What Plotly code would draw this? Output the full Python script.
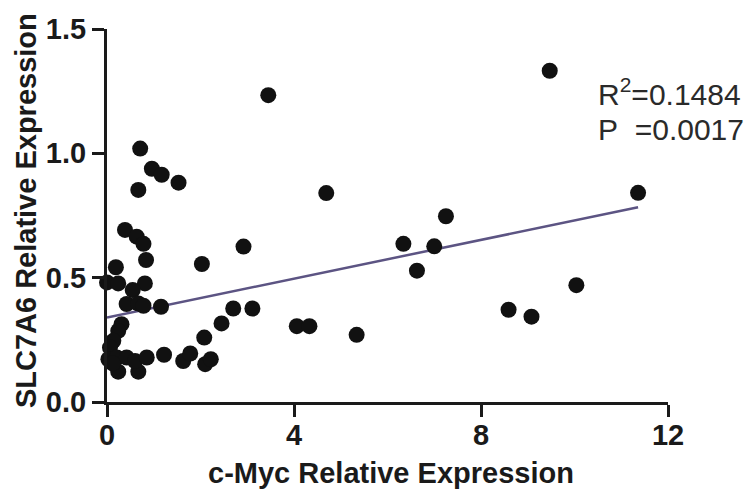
import plotly.graph_objects as go

# c-Myc relative expression (x) vs SLC7A6 relative expression (y)
cmyc = [9.47, 3.45, 0.71, 0.96, 1.17, 1.53, 0.67, 4.69, 11.36, 7.25,
        0.385, 0.635, 0.78, 2.92, 6.34, 7.00, 0.835, 2.03, 0.19, 6.63,
        0.00, 0.24, 0.81, 10.04, 0.55, 0.42, 0.67, 0.78, 1.155, 2.70,
        3.11, 8.59, 9.08, 0.31, 2.45, 4.06, 4.33, 0.24, 5.34, 2.08,
        0.135, 0.064, 0.03, 0.21, 0.42, 0.24, 0.67, 0.60, 0.85, 1.22,
        1.63, 1.78, 2.10, 2.22, 0.12]
slc7a6 = [1.332, 1.234, 1.019, 0.938, 0.914, 0.882, 0.853, 0.840, 0.841, 0.747,
          0.692, 0.665, 0.636, 0.625, 0.636, 0.626, 0.571, 0.555, 0.542, 0.528,
          0.481, 0.477, 0.477, 0.470, 0.450, 0.394, 0.396, 0.387, 0.383, 0.376,
          0.376, 0.371, 0.343, 0.313, 0.316, 0.305, 0.305, 0.286, 0.270, 0.259,
          0.246, 0.219, 0.172, 0.179, 0.179, 0.122, 0.122, 0.165, 0.179, 0.190,
          0.165, 0.195, 0.152, 0.172, 0.155]

# regression line end points
fit_x = [0.0, 11.36]
fit_y = [0.34, 0.783]

x_ticks = [0, 4, 8, 12]
y_ticks = [0.0, 0.5, 1.0, 1.5]
y_ticklabels = ["0.0", "0.5", "1.0", "1.5"]

x_title = "c-Myc Relative Expression"
y_title = "SLC7A6 Relative Expression"
r2_text = "R<sup>2</sup>=0.1484"
p_text = "P\u00a0 =0.0017"

fig = go.Figure()
fig.add_trace(go.Scatter(
    x=fit_x, y=fit_y, mode="lines",
    line=dict(color="#5c5483", width=2.5),
    showlegend=False, hoverinfo="skip"))
fig.add_trace(go.Scatter(
    x=cmyc, y=slc7a6, mode="markers",
    marker=dict(size=16, color="#111111", line=dict(width=0)),
    cliponaxis=False, showlegend=False))

FONT = "Liberation Sans, Arial, sans-serif"
tick_font = dict(family=FONT, size=29, color="#1a1a1a", weight="bold")
title_font = dict(family=FONT, size=29, color="#1a1a1a", weight="bold")
note_font = dict(family=FONT, size=30, color="#2a2a2a")

fig.update_layout(
    width=751, height=489,
    margin=dict(l=107, r=83, t=29, b=87, autoexpand=False),
    paper_bgcolor="white", plot_bgcolor="white",
    xaxis=dict(range=[0, 12], tickvals=x_ticks, ticktext=[str(v) for v in x_ticks],
               showgrid=False, zeroline=False, showline=True, linecolor="#1a1a1a", linewidth=3,
               ticks="outside", ticklen=12, tickwidth=3, tickcolor="#1a1a1a",
               tickfont=tick_font, automargin=False, ticklabelstandoff=-7),
    yaxis=dict(range=[0, 1.5], tickvals=y_ticks, ticktext=y_ticklabels,
               showgrid=False, zeroline=False, showline=True, linecolor="#1a1a1a", linewidth=3,
               ticks="outside", ticklen=12, tickwidth=3, tickcolor="#1a1a1a",
               tickfont=tick_font, automargin=False),
    annotations=[
        dict(text=x_title, xref="paper", yref="paper", x=0.507, y=-0.1913,
             xanchor="center", yanchor="middle", showarrow=False, font=title_font),
        dict(text=y_title, xref="paper", yref="paper", x=-0.1444, y=0.5144,
             xanchor="center", yanchor="middle", textangle=-90, showarrow=False, font=title_font),
        dict(text=r2_text, xref="paper", yref="paper", x=0.8717, y=0.8310,
             xanchor="left", yanchor="middle", showarrow=False, font=note_font),
        dict(text=p_text, xref="paper", yref="paper", x=0.8717, y=0.7317,
             xanchor="left", yanchor="middle", showarrow=False, font=note_font),
    ],
)

fig.write_html("out.html")
